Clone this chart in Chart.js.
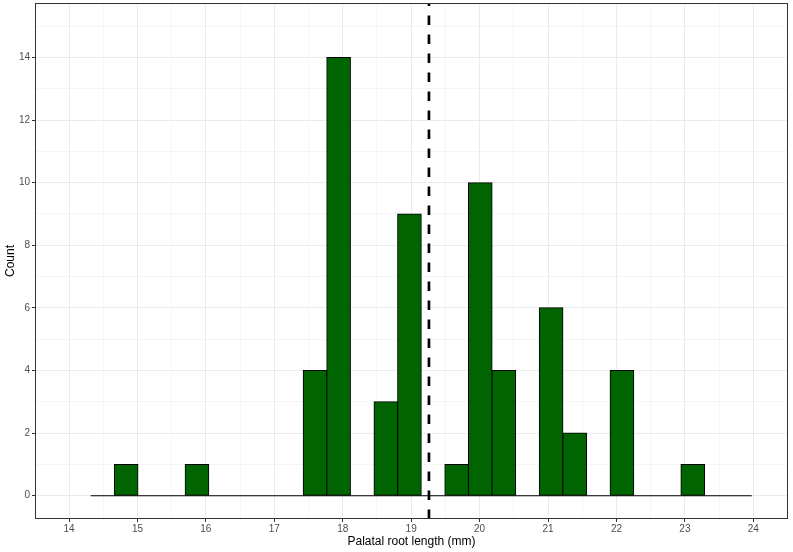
<!DOCTYPE html>
<html>
<head>
<meta charset="utf-8">
<script src="https://cdn.jsdelivr.net/npm/chart.js@4/dist/chart.umd.min.js"></script>
<style>
  html, body { margin: 0; padding: 0; background: #ffffff; }
  #wrap { width: 793px; height: 552px; }
</style>
</head>
<body>
<div id="wrap"><canvas id="c" width="793" height="552"></canvas></div>
<script>
// ---- data ----
const binCenters = [14.490, 14.835, 15.180, 15.525, 15.870, 16.215, 16.560, 16.905, 17.250, 17.595,
                    17.940, 18.285, 18.630, 18.975, 19.320, 19.665, 20.010, 20.355, 20.700, 21.045,
                    21.390, 21.735, 22.080, 22.425, 22.770, 23.115, 23.460, 23.805];
const binCounts  = [0, 1, 0, 0, 1, 0, 0, 0, 0, 4,
                    14, 0, 3, 9, 0, 1, 10, 4, 0, 6,
                    2, 0, 4, 0, 0, 1, 0, 0];
const binRange   = [14.317, 23.977];      // first / last bin edge (zero baseline)
const meanValue  = 19.26;                 // dashed reference line
const xTicks     = [14, 15, 16, 17, 18, 19, 20, 21, 22, 23, 24];
const xMinor     = [14.5, 15.5, 16.5, 17.5, 18.5, 19.5, 20.5, 21.5, 22.5, 23.5];
const yTicks     = [0, 2, 4, 6, 8, 10, 12, 14];
const yMinor     = [1, 3, 5, 7, 9, 11, 13, 15];
const xLimits    = [13.503, 24.507];
const yLimits    = [-0.745, 15.74];
const xTitle     = 'Palatal root length (mm)';
const yTitle     = 'Count';

// ---- styling ----
const GRID = '#EBEBEB';
const DARK = '#333333';
const TICKTXT = '#4D4D4D';
const FONT = '"Liberation Sans", Arial, Helvetica, sans-serif';

const xMajorSet = new Set(xTicks);
const yMajorSet = new Set(yTicks);

const panelBorder = {
  id: 'panelBorder',
  afterDraw(chart) {
    const {ctx, chartArea: a} = chart;
    ctx.save();
    ctx.strokeStyle = DARK;
    ctx.lineWidth = 1;
    ctx.strokeRect(Math.round(a.left) + 0.5, Math.round(a.top) + 0.5,
                   Math.round(a.right - a.left) - 1, Math.round(a.bottom - a.top) - 1);
    ctx.restore();
  }
};

function gridWidth(set) {
  return (c) => (c.tick && set.has(c.tick.value)) ? 1 : 0.5;
}
function tickCol(set) {
  return (c) => (c.tick && set.has(c.tick.value)) ? DARK : 'rgba(0,0,0,0)';
}

new Chart(document.getElementById('c'), {
  data: {
    datasets: [
      {
        type: 'line',
        label: 'mean',
        data: [{x: meanValue, y: yLimits[0]}, {x: meanValue, y: yLimits[1]}],
        borderColor: '#000000',
        borderWidth: 2.7,
        borderDash: [9.5, 9.5],
        borderCapStyle: 'butt',
        pointRadius: 0,
        fill: false,
        order: 0
      },
      {
        type: 'line',
        label: 'baseline',
        data: [{x: binRange[0], y: 0}, {x: binRange[1], y: 0}],
        borderColor: '#000000',
        borderWidth: 1.1,
        pointRadius: 0,
        fill: false,
        order: 1
      },
      {
        type: 'bar',
        label: 'count',
        data: binCenters.map((x, i) => ({x: x, y: binCounts[i]})),
        backgroundColor: '#006400',
        borderColor: '#000000',
        borderWidth: 1,
        borderSkipped: false,
        inflateAmount: 0.5,
        barPercentage: 1,
        categoryPercentage: 1,
        order: 2
      }
    ]
  },
  options: {
    responsive: false,
    animation: false,
    events: [],
    layout: { padding: { top: 3, right: 5, left: 0, bottom: 0 } },
    plugins: { legend: { display: false }, tooltip: { enabled: false } },
    scales: {
      x: {
        type: 'linear',
        offset: false,
        min: xLimits[0],
        max: xLimits[1],
        afterBuildTicks(scale) {
          scale.ticks = [...xTicks, ...xMinor].sort((a, b) => a - b).map(v => ({value: v}));
        },
        afterFit(scale) {
          scale.height = 33;
          scale.paddingLeft = 0; scale.paddingRight = 0;
        },
        ticks: {
          autoSkip: false,
          maxRotation: 0,
          padding: 1,
          color: TICKTXT,
          font: { family: FONT, size: 10 },
          callback: (v) => xMajorSet.has(v) ? String(v) : ''
        },
        grid: {
          offset: false,
          color: GRID,
          lineWidth: gridWidth(xMajorSet),
          drawTicks: true,
          tickLength: 3,
          tickWidth: 1,
          tickColor: tickCol(xMajorSet)
        },
        border: { display: false },
        title: {
          display: true,
          text: xTitle,
          color: '#000000',
          font: { family: FONT, size: 12 },
          padding: { top: 0, bottom: 3 }
        }
      },
      y: {
        type: 'linear',
        min: yLimits[0],
        max: yLimits[1],
        afterBuildTicks(scale) {
          scale.ticks = [...yTicks, ...yMinor].sort((a, b) => a - b).map(v => ({value: v}));
        },
        afterFit(scale) {
          scale.width = 35;
          scale.paddingTop = 0; scale.paddingBottom = 0;
        },
        ticks: {
          autoSkip: false,
          padding: 2,
          color: TICKTXT,
          font: { family: FONT, size: 10 },
          callback: (v) => yMajorSet.has(v) ? String(v) : ''
        },
        grid: {
          color: GRID,
          lineWidth: gridWidth(yMajorSet),
          drawTicks: true,
          tickLength: 3,
          tickWidth: 1,
          tickColor: tickCol(yMajorSet)
        },
        border: { display: false },
        title: {
          display: true,
          text: yTitle,
          color: '#000000',
          font: { family: FONT, size: 12 },
          padding: { top: 3, bottom: 0 }
        }
      }
    }
  },
  plugins: [panelBorder]
});
</script>
</body>
</html>
